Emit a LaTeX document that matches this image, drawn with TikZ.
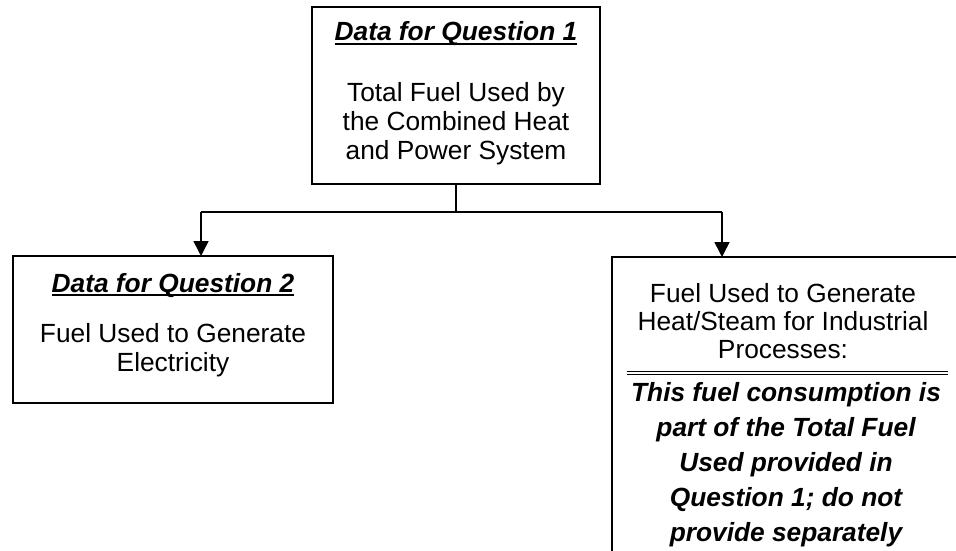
\documentclass[tikz,border=0pt]{standalone}
\usepackage{fontspec}
\setmainfont{Liberation Sans}
\usetikzlibrary{arrows.meta}
\begin{document}
\begin{tikzpicture}[x=1pt,y=-1pt,
  box/.style={draw=black,line width=1.8pt,inner sep=0pt,outer sep=0pt},
  txt/.style={inner sep=0pt,outer sep=0pt,anchor=base,font=\fontsize{26.3}{30}\selectfont},
  bi/.style={txt,font=\fontsize{26.3}{30}\selectfont\bfseries\itshape},
  conn/.style={line width=1.6pt},
  arr/.style={conn,-{Triangle[width=15pt,length=15pt]}},
  uline/.style={line width=2.2pt}]
\useasboundingbox (0,0) rectangle (956,551);
% boxes
\node[box,minimum width=288pt,minimum height=177pt] (q1) at (456,95.5) {};
\node[box,minimum width=320pt,minimum height=147pt] (q2) at (173,329.5) {};
\begin{scope}
\clip (0,0) rectangle (956,551);
\node[box,minimum width=346pt,minimum height=320pt] (heat) at (785,417) {};
\end{scope}
% top box text
\node[bi] (t1) at (456,41) {Data for Question 1};
\draw[uline] ([yshift=-2.9pt]t1.base west) -- ([yshift=-2.9pt]t1.base east);
\node[txt] (a1) at (456,101) {Total Fuel Used by};
\node[txt] (a2) at (456,130) {the Combined Heat};
\node[txt] (a3) at (456,159) {and Power System};
% left box text
\node[bi] (t2) at (173,292) {Data for Question 2};
\draw[uline] ([yshift=-2.9pt]t2.base west) -- ([yshift=-2.9pt]t2.base east);
\node[txt] (b1) at (173,342) {Fuel Used to Generate};
\node[txt] (b2) at (173,371) {Electricity};
% right box text
\node[txt] (c1) at (783,302) {Fuel Used to Generate};
\node[txt] (c2) at (783,330) {Heat/Steam for Industrial};
\node[txt] (c3) at (783,358) {Processes:};
\coordinate (dl1) at (627,371.3);
\coordinate (dr1) at (948,371.3);
\coordinate (dl2) at (627,374.7);
\coordinate (dr2) at (948,374.7);
\draw[line width=1.3pt] (dl1) -- (dr1);
\draw[line width=1.3pt] (dl2) -- (dr2);
\node[bi] (d1) at (786,401) {This fuel consumption is};
\node[bi] (d2) at (786,436) {part of the Total Fuel};
\node[bi] (d3) at (786,471) {Used provided in};
\node[bi] (d4) at (786,506) {Question 1; do not};
\node[bi] (d5) at (786,541) {provide separately};
% connectors
\coordinate (split) at (456,212);
\coordinate (lt) at (201,212);
\coordinate (rt) at (722,212);
\draw[conn] (q1.south) -- (split);
\draw[conn] (lt) -- (rt);
\draw[arr] (lt) -- (lt |- q2.north);
\draw[arr] (rt) -- (rt |- heat.north);
\end{tikzpicture}
\end{document}
